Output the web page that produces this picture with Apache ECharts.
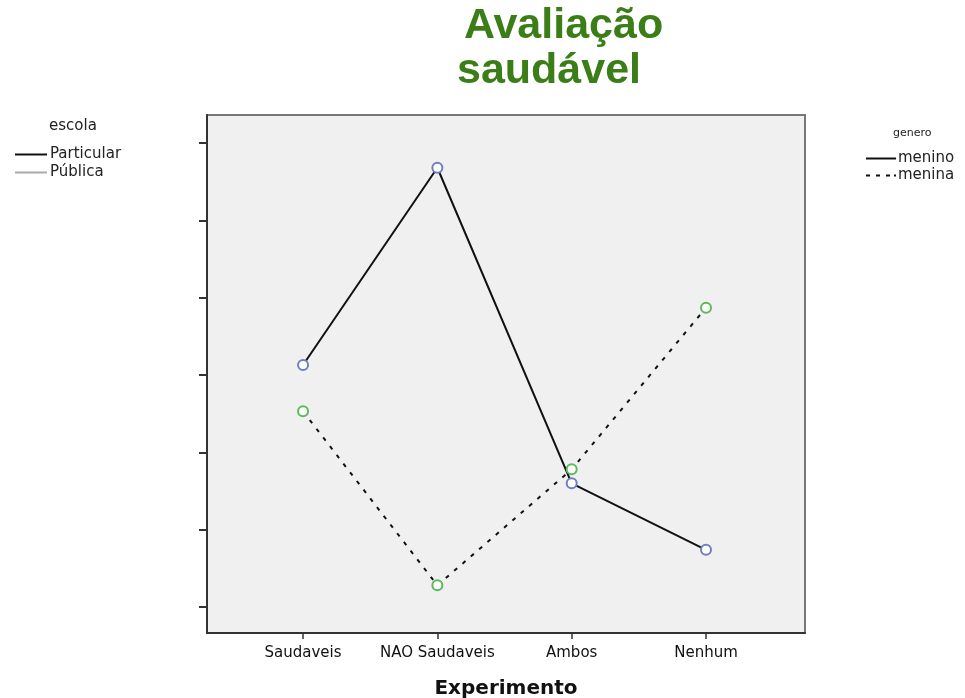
<!DOCTYPE html>
<html>
<head>
<meta charset="utf-8">
<script src="https://cdn.jsdelivr.net/npm/echarts@6/dist/echarts.min.js"></script>
<style>
    html, body { margin: 0; padding: 0; background: #fff; }
    #main { width: 965px; height: 698px; }
</style>
</head>
<body>
<div id="main"></div>
<script>
    // dados
    const categorias = ['Saudaveis', 'NAO Saudaveis', 'Ambos', 'Nenhum'];
    const menino = [3.13, 5.68, 1.60, 0.74];
    const menina = [2.53, 0.28, 1.78, 3.87];
    const ticksY = [0, 1, 2, 3, 4, 5, 6];
    const ticksX = [0, 1, 2, 3];

    const fonte = '"DejaVu Sans", sans-serif';

    const chart = echarts.init(document.getElementById('main'));
    chart.setOption({
        animation: false,
        backgroundColor: '#fff',
        title: [
            {
                text: 'Avaliação', left: 459, top: 0,
                textStyle: { color: '#3b7d17', fontSize: 43, fontWeight: 'bold', fontFamily: '"Liberation Sans", Arial, sans-serif' }
            },
            {
                text: 'saudável', left: 452, top: 45,
                textStyle: { color: '#3b7d17', fontSize: 43, fontWeight: 'bold', fontFamily: '"Liberation Sans", Arial, sans-serif' }
            },
            {
                text: 'escola', left: 44, top: 114,
                textStyle: { color: '#222', fontSize: 15, fontWeight: 'normal', fontFamily: fonte }
            },
            {
                text: 'genero', left: 888, top: 123,
                textStyle: { color: '#222', fontSize: 11, fontWeight: 'normal', fontFamily: fonte }
            }
        ],
        legend: [
            {
                data: ['Particular', 'Pública'],
                orient: 'vertical', left: 10, top: 142,
                icon: 'rect', itemWidth: 32, itemHeight: 2, itemGap: 3,
                selectedMode: false,
                itemStyle: { borderWidth: 0 },
                textStyle: { color: '#222', fontSize: 15, fontFamily: fonte, padding: [0, 0, 0, -2] }
            },
            {
                data: [
                    { name: 'menino', icon: 'rect' },
                    { name: 'menina', icon: 'path://M0,0h4v2h-4z M10,0h4v2h-4z M20,0h4v2h-4z M28,0h2v2h-2z' }
                ],
                orient: 'vertical', left: 861, top: 146,
                itemWidth: 30, itemHeight: 2, itemGap: 2,
                selectedMode: false,
                itemStyle: { color: '#111', borderWidth: 0 },
                textStyle: { color: '#222', fontSize: 15, fontFamily: fonte, padding: [0, 0, 0, -3] }
            }
        ],
        grid: {
            left: 207, top: 115, right: 160, bottom: 65,
            outerBoundsMode: 'none',
            show: true, backgroundColor: '#f0f0f0', borderColor: '#777', borderWidth: 2
        },
        xAxis: {
            type: 'value', min: -0.715, max: 3.737,
            name: 'Experimento', nameLocation: 'middle', nameGap: 46,
            nameTextStyle: { color: '#111', fontSize: 20, fontWeight: 'bold', fontFamily: fonte },
            splitLine: { show: false },
            axisLine: { show: true, onZero: false, lineStyle: { color: '#333', width: 2 } },
            axisTick: { show: true, customValues: ticksX, length: 6, lineStyle: { color: '#333', width: 1.5 } },
            axisLabel: {
                customValues: ticksX, margin: 13,
                color: '#111', fontSize: 15, fontFamily: fonte,
                formatter: v => categorias[v]
            }
        },
        yAxis: {
            type: 'value', min: -0.336, max: 6.362,
            splitLine: { show: false },
            axisLine: { show: true, onZero: false, lineStyle: { color: '#333', width: 2 } },
            axisTick: { show: true, customValues: ticksY, length: 8, lineStyle: { color: '#333', width: 2 } },
            axisLabel: { show: false }
        },
        series: [
            {
                name: 'menino', type: 'line',
                data: menino.map((v, i) => [i, v]),
                symbol: 'emptyCircle', symbolSize: 10,
                itemStyle: { color: '#6f7fc0', borderWidth: 1.5 },
                lineStyle: { color: '#111', width: 2, type: 'solid' },
                z: 3
            },
            {
                name: 'menina', type: 'line',
                data: menina.map((v, i) => [i, v]),
                symbol: 'emptyCircle', symbolSize: 10,
                itemStyle: { color: '#5db85a', borderWidth: 1.5 },
                lineStyle: { color: '#111', width: 2, type: [4, 7] },
                z: 4
            },
            { name: 'Particular', type: 'line', data: [], color: '#111' },
            { name: 'Pública', type: 'line', data: [], color: '#aaa' }
        ]
    });
</script>
</body>
</html>
